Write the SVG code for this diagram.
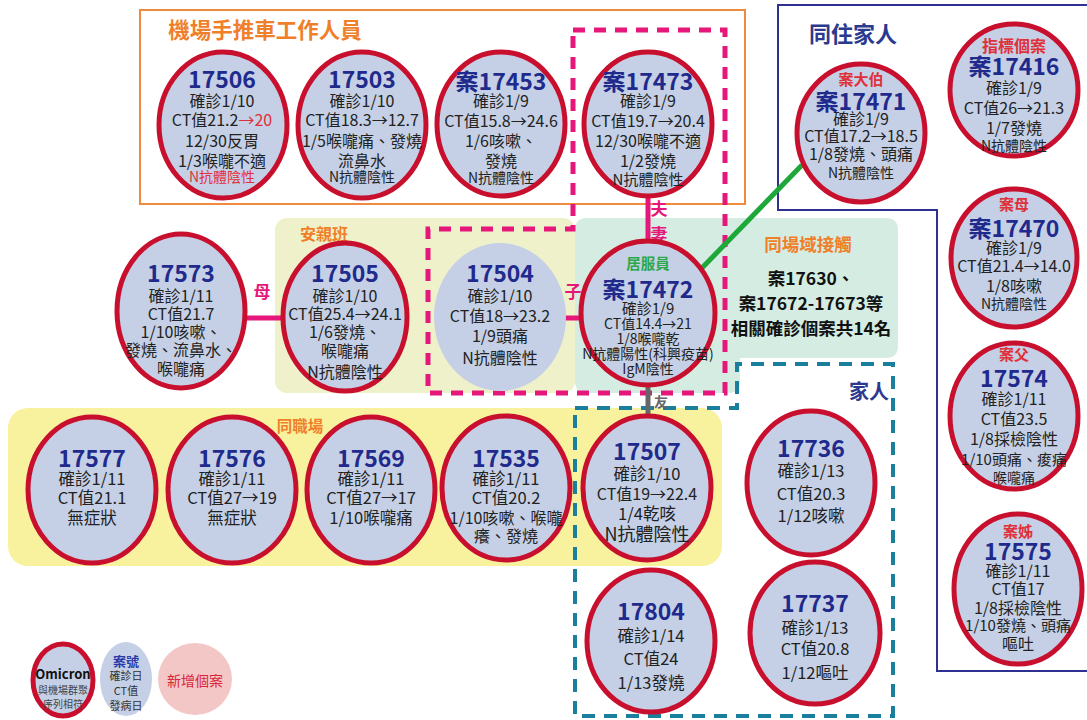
<svg xmlns="http://www.w3.org/2000/svg" width="1087" height="720" viewBox="0 0 1087 720">
<style>
text{font-family:"Noto Sans CJK TC","Noto Sans",sans-serif;text-anchor:middle;dominant-baseline:central;fill:#222}
.n{fill:#c5d0e6;stroke:#c8102e;stroke-width:5}
.nb{fill:#c5d0e6;stroke:none}
.t{font-size:23px;font-weight:bold;fill:#1f2a8c}
.b{font-size:16px}
.bl{font-size:16.5px}
.s{font-size:14px}
.x{font-size:14px}
.r{font-size:15px;font-weight:bold;fill:#e0303a}
.g{font-size:22px;font-weight:bold}
.or{fill:#f07f2a;font-weight:bold}
.rel{font-size:17px;font-weight:bold;fill:#e6177a}
.pd{fill:none;stroke:#e6177a;stroke-width:5;stroke-dasharray:12 9}
.td{fill:none;stroke:#1a7f9c;stroke-width:4;stroke-dasharray:13 9}
</style>
<rect width="1087" height="720" fill="#ffffff"/>
<g id="groups">
<rect id="airport" x="140" y="10" width="605" height="194" fill="none" stroke="#f08a3e" stroke-width="2"/>
<text x="265" y="28" class="g or" style="font-size:21.5px">機場手推車工作人員</text>
<path id="family-live" d="M1087,5 H778 V210 H937 V671 H1087" fill="none" stroke="#2e3192" stroke-width="2"/>
<text x="853" y="32" class="g" style="fill:#2b3a8f">同住家人</text>
<path id="venue" d="M587,218 H886 Q898,218 898,230 V346 Q898,358 886,358 H740 V381 Q740,393 728,393 H587 Q575,393 575,381 V230 Q575,218 587,218 Z" fill="#d4ece1"/>
<rect id="afterschool" x="275" y="218" width="300" height="175" rx="12" fill="#eef1c9"/>
<text x="324" y="233" class="or" style="font-size:16px">安親班</text>
<rect id="workplace" x="8" y="408" width="714" height="158" rx="20" fill="#f8f19e"/>
<text x="300" y="425" class="or" style="font-size:15.5px">同職場</text>
<path class="pd" d="M573,30 H725 V393 H428 V229 H573 Z"/>
<path class="td" d="M575,408 H737 V364 H893 V716 H575 Z"/>
<text x="869" y="390" style="font-size:20px;font-weight:bold;fill:#2b3a8f">家人</text>
<text x="808" y="243" class="or" style="font-size:17.5px">同場域接觸</text>
<text x="811" y="277" style="font-size:17.5px;font-weight:bold;fill:#111">案17630、</text>
<text x="811" y="302" style="font-size:17.5px;font-weight:bold;fill:#111">案17672-17673等</text>
<text x="811" y="327" style="font-size:17.5px;font-weight:bold;fill:#111">相關確診個案共14名</text>
</g>
<g id="connectors">
<line x1="247" y1="318" x2="282" y2="318" stroke="#e6177a" stroke-width="5"/>
<text x="262" y="290" class="rel">母</text>
<line x1="565" y1="318" x2="582" y2="318" stroke="#e6177a" stroke-width="5"/>
<text x="573" y="290" class="rel">子</text>
<line x1="648" y1="196" x2="648" y2="241" stroke="#e6177a" stroke-width="5"/>
<text x="659" y="207" class="rel">夫</text>
<text x="659" y="233" class="rel">妻</text>
<line x1="699" y1="271" x2="802" y2="165" stroke="#1fa83a" stroke-width="5"/>
<line x1="648" y1="385" x2="648" y2="415" stroke="#666" stroke-width="5"/>
<text x="661" y="401" style="font-size:14px;font-weight:bold;fill:#666">友</text>
</g>
<g id="n17506"><ellipse class="n" cx="223" cy="125" rx="64" ry="73"/>
<text x="222" y="78" class="t">17506</text><text x="222" y="100" class="b">確診1/10</text>
<text x="222" y="119" class="b">CT值21.2<tspan fill="#e0303a">→20</tspan></text><text x="222" y="140" class="b">12/30反胃</text>
<text x="222" y="160" class="b">1/3喉嚨不適</text><text x="222" y="176" class="s" style="fill:#e0303a">N抗體陰性</text></g>
<g id="n17503"><ellipse class="n" cx="362" cy="125" rx="64" ry="73"/>
<text x="362" y="78" class="t">17503</text><text x="362" y="100" class="b">確診1/10</text>
<text x="362" y="119" class="b">CT值18.3→12.7</text><text x="362" y="140" class="b">1/5喉嚨痛、發燒</text>
<text x="362" y="160" class="b">流鼻水</text><text x="362" y="176" class="s">N抗體陰性</text></g>
<g id="n17453"><ellipse class="n" cx="501" cy="124" rx="64" ry="72"/>
<text x="501" y="80" class="t">案17453</text><text x="501" y="100" class="b">確診1/9</text>
<text x="501" y="120" class="b">CT值15.8→24.6</text><text x="501" y="140" class="b">1/6咳嗽、</text>
<text x="501" y="160" class="b">發燒</text><text x="501" y="177" class="s">N抗體陰性</text></g>
<g id="n17473"><ellipse class="n" cx="648" cy="124" rx="64" ry="72"/>
<text x="648" y="80" class="t">案17473</text><text x="648" y="100" class="b">確診1/9</text>
<text x="648" y="120" class="b">CT值19.7→20.4</text><text x="648" y="140" class="b">12/30喉嚨不適</text>
<text x="648" y="160" class="b">1/2發燒</text><text x="648" y="178" style="font-size:15px">N抗體陰性</text></g>
<g id="n17471"><ellipse class="n" cx="861" cy="133" rx="64" ry="69"/>
<text x="861" y="78" class="r">案大伯</text><text x="861" y="100" class="t">案17471</text>
<text x="861" y="118" class="b">確診1/9</text><text x="861" y="135" class="b">CT值17.2→18.5</text>
<text x="861" y="153" class="b">1/8發燒、頭痛</text><text x="861" y="172" class="s">N抗體陰性</text></g>
<g id="n17416"><ellipse class="n" cx="1014" cy="90" rx="64" ry="66"/>
<text x="1014" y="45" class="r" style="font-size:16px">指標個案</text><text x="1014" y="65" class="t">案17416</text>
<text x="1014" y="87" class="b">確診1/9</text><text x="1014" y="107" class="b">CT值26→21.3</text>
<text x="1014" y="127" class="b">1/7發燒</text><text x="1014" y="145" class="s">N抗體陰性</text></g>
<g id="n17470"><ellipse class="n" cx="1014" cy="258" rx="63" ry="69"/>
<text x="1014" y="203" class="r">案母</text><text x="1014" y="227" class="t">案17470</text>
<text x="1014" y="247" class="b">確診1/9</text><text x="1014" y="265" class="b">CT值21.4→14.0</text>
<text x="1014" y="285" class="b">1/8咳嗽</text><text x="1014" y="303" class="s">N抗體陰性</text></g>
<g id="n17574"><ellipse class="n" cx="1014" cy="416" rx="64" ry="73"/>
<text x="1014" y="353" class="r">案父</text><text x="1014" y="377" class="t">17574</text>
<text x="1014" y="398" class="b">確診1/11</text><text x="1014" y="418" class="b">CT值23.5</text>
<text x="1014" y="438" class="b">1/8採檢陰性</text><text x="1014" y="458" style="font-size:15px">1/10頭痛、痠痛</text>
<text x="1014" y="477" class="s">喉嚨痛</text></g>
<g id="n17575"><ellipse class="n" cx="1018" cy="589" rx="64" ry="75"/>
<text x="1018" y="530" class="r">案姊</text><text x="1018" y="550" class="t">17575</text>
<text x="1018" y="570" class="b">確診1/11</text><text x="1018" y="588" class="b">CT值17</text>
<text x="1018" y="607" class="b">1/8採檢陰性</text><text x="1018" y="624" style="font-size:15px">1/10發燒、頭痛</text>
<text x="1018" y="643" class="b">嘔吐</text></g>
<g id="n17573"><ellipse class="n" cx="181" cy="311" rx="64" ry="77"/>
<text x="181" y="272" class="t">17573</text><text x="181" y="295" class="b">確診1/11</text>
<text x="181" y="313" class="b">CT值21.7</text><text x="181" y="331" class="b">1/10咳嗽、</text>
<text x="181" y="349" class="b">發燒、流鼻水、</text><text x="181" y="368" class="b">喉嚨痛</text></g>
<g id="n17505"><ellipse class="n" cx="345" cy="317" rx="62" ry="74"/>
<text x="345" y="272" class="t">17505</text><text x="345" y="295" class="b">確診1/10</text>
<text x="345" y="313" class="b">CT值25.4→24.1</text><text x="345" y="331" class="b">1/6發燒、</text>
<text x="345" y="350" class="b">喉嚨痛</text><text x="345" y="371" class="b">N抗體陰性</text></g>
<g id="n17504"><ellipse class="nb" cx="500" cy="317" rx="66" ry="74"/>
<text x="500" y="272" class="t">17504</text><text x="500" y="295" class="b">確診1/10</text>
<text x="500" y="315" class="b">CT值18→23.2</text><text x="500" y="335" class="b">1/9頭痛</text>
<text x="500" y="357" class="b">N抗體陰性</text></g>
<g id="n17472"><ellipse class="n" cx="648" cy="313" rx="67" ry="72"/>
<text x="648" y="262" style="font-size:14.5px;font-weight:bold;fill:#2aa84a">居服員</text>
<text x="648" y="288" class="t">案17472</text><text x="648" y="307" style="font-size:15px">確診1/9</text>
<text x="648" y="323" class="x">CT值14.4→21</text><text x="648" y="338" class="x">1/8喉嚨乾</text>
<text x="648" y="353" class="x">N抗體陽性(科興疫苗)</text><text x="648" y="368" class="x">IgM陰性</text></g>
<g id="n17577"><ellipse class="n" cx="92" cy="490" rx="64" ry="73"/>
<text x="92" y="457" class="t">17577</text><text x="92" y="478" class="bl">確診1/11</text>
<text x="92" y="497" class="bl">CT值21.1</text><text x="92" y="517" class="bl">無症狀</text></g>
<g id="n17576"><ellipse class="n" cx="232" cy="490" rx="64" ry="73"/>
<text x="232" y="457" class="t">17576</text><text x="232" y="478" class="bl">確診1/11</text>
<text x="232" y="497" class="bl">CT值27→19</text><text x="232" y="517" class="bl">無症狀</text></g>
<g id="n17569"><ellipse class="n" cx="371" cy="490" rx="64" ry="73"/>
<text x="371" y="457" class="t">17569</text><text x="371" y="478" class="bl">確診1/11</text>
<text x="371" y="497" class="bl">CT值27→17</text><text x="371" y="517" class="bl">1/10喉嚨痛</text></g>
<g id="n17535"><ellipse class="n" cx="506" cy="488" rx="64" ry="72"/>
<text x="506" y="457" class="t">17535</text><text x="506" y="478" class="bl">確診1/11</text>
<text x="506" y="497" class="bl">CT值20.2</text><text x="506" y="517" class="b">1/10咳嗽、喉嚨</text>
<text x="506" y="535" class="b">癢、發燒</text></g>
<g id="n17507"><ellipse class="n" cx="647" cy="488" rx="64" ry="72"/>
<text x="647" y="450" class="t">17507</text><text x="647" y="473" class="bl">確診1/10</text>
<text x="647" y="493" class="b">CT值19→22.4</text><text x="647" y="513" class="bl">1/4乾咳</text>
<text x="647" y="533" style="font-size:18px">N抗體陰性</text></g>
<g id="n17736"><ellipse class="n" cx="811" cy="483" rx="64" ry="72"/>
<text x="811" y="447" class="t">17736</text><text x="811" y="470" class="bl">確診1/13</text>
<text x="811" y="493" class="bl">CT值20.3</text><text x="811" y="515" class="bl">1/12咳嗽</text></g>
<g id="n17804"><ellipse class="n" cx="651" cy="641" rx="64" ry="71"/>
<text x="651" y="610" class="t">17804</text><text x="651" y="635" class="bl">確診1/14</text>
<text x="651" y="658" class="bl">CT值24</text><text x="651" y="682" class="bl">1/13發燒</text></g>
<g id="n17737"><ellipse class="n" cx="815" cy="633" rx="65" ry="71"/>
<text x="815" y="602" class="t">17737</text><text x="815" y="627" class="bl">確診1/13</text>
<text x="815" y="648" class="bl">CT值20.8</text><text x="815" y="672" class="bl">1/12嘔吐</text></g>
<g id="legend">
<g id="lg-omicron"><ellipse cx="63" cy="680" rx="30" ry="36" fill="#c5d0e6" stroke="#c8102e" stroke-width="5"/>
<text x="63" y="673" style="font-size:13px;font-weight:bold;fill:#111">Omicron</text>
<text x="63" y="689" style="font-size:10px;fill:#444">與機場群聚</text>
<text x="63" y="703" style="font-size:10px;fill:#444">序列相符</text></g>
<g id="lg-key"><ellipse cx="126" cy="679" rx="26" ry="37" fill="#c5d0e6"/>
<text x="126" y="660" style="font-size:13px;font-weight:bold;fill:#2b3aa8">案號</text>
<text x="126" y="675" style="font-size:11px;fill:#333">確診日</text>
<text x="126" y="690" style="font-size:11px;fill:#333">CT值</text>
<text x="126" y="705" style="font-size:11px;fill:#333">發病日</text></g>
<g id="lg-new"><ellipse cx="195" cy="679" rx="37" ry="36" fill="#f4c7c7"/>
<text x="195" y="680" style="font-size:14px;fill:#d9263a">新增個案</text></g>
</g>
</svg>
